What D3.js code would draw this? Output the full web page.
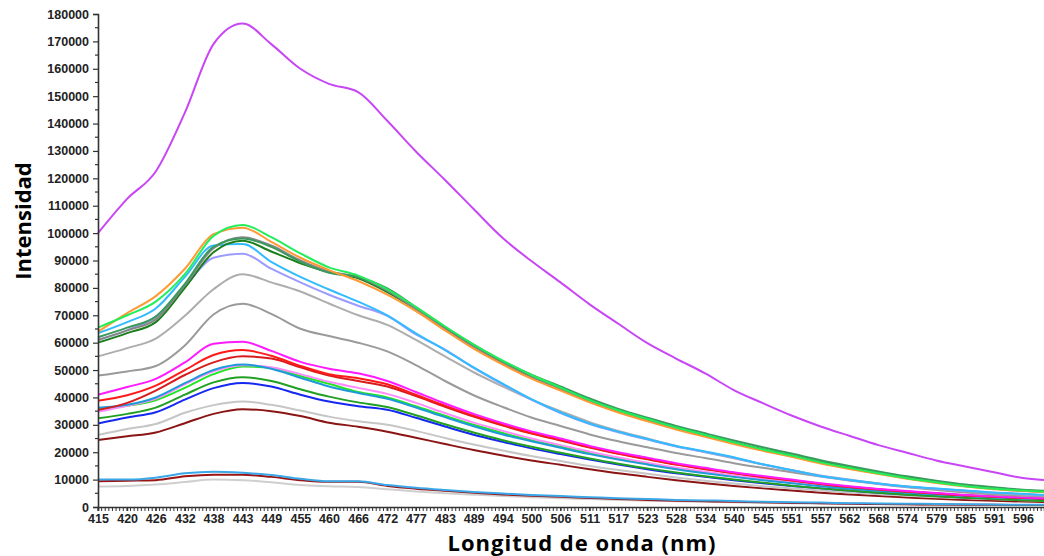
<!DOCTYPE html>
<html>
<head>
<meta charset="utf-8">
<script src="https://cdn.jsdelivr.net/npm/d3@7"></script>
<style>
  html, body { margin: 0; padding: 0; background: #fff; }
  svg { display: block; }
</style>
</head>
<body>
<svg id="chart" width="1044" height="556"></svg>
<script>
// ---------------- DATA ----------------
const wavelengths = [415.0, 420.7, 426.3, 432.0, 437.6, 443.3, 448.9, 454.6, 460.2, 465.9, 471.6, 477.2, 482.9, 488.5, 494.2, 499.8, 505.5, 511.2, 516.8, 522.5, 528.1, 533.8, 539.4, 545.1, 550.7, 556.4, 562.0, 567.7, 573.3, 579.0, 584.7, 590.3, 596.0, 600.1];
const xTickLabels = ["415","420","426","432","438","443","449","455","460","466","472","477","483","489","494","500","506","511","517","523","528","534","540","545","551","557","562","568","574","579","585","591","596"];
const yTicks = [0,10000,20000,30000,40000,50000,60000,70000,80000,90000,100000,110000,120000,130000,140000,150000,160000,170000,180000];

const sLightGrayLow = [7500,7700,8200,9100,10000,9800,9000,8000,7600,7300,6500,5700,5000,4500,4000,3600,3200,2900,2600,2300,2100,1900,1700,1500,1400,1200,1100,1000,900,800,700,700,600,600];
const sDarkRedLow   = [9400,9600,9800,11200,11800,11800,11000,9800,9200,9200,7700,6700,5900,5200,4600,4100,3700,3300,2900,2600,2300,2100,1900,1700,1500,1400,1200,1100,1000,900,800,800,700,700];
const sSkyBlueLow   = [10000,10000,10700,12300,12900,12500,11700,10300,9400,9400,8000,7000,6200,5500,4900,4400,4000,3600,3200,2900,2600,2400,2200,1900,1700,1600,1400,1300,1200,1100,1000,900,800,800];
const sDarkRed      = [24500,25800,27200,30600,34000,35700,35000,33200,30800,29300,27500,25300,23000,20800,18800,17000,15400,13800,12300,11000,9800,8700,7700,6800,6000,5200,4600,4000,3500,3000,2600,2300,2000,1800];
const sLightGray    = [26300,28500,30300,34400,37200,38500,37300,35200,33000,31300,30000,27800,25200,22800,20600,18600,16800,15000,13500,12100,10800,9600,8600,7600,6800,6000,5300,4700,4100,3600,3200,2800,2500,2300];
const sBlue         = [30500,32700,34600,39200,43400,45300,44000,41000,38500,36800,35500,32600,29400,26400,23800,21400,19300,17300,15500,13800,12300,11000,9800,8700,7700,6800,6000,5200,4600,4000,3500,3100,2700,2500];
const sGreen        = [32400,34000,36300,41000,45500,47400,46000,43000,40300,38200,36500,33500,30200,27200,24400,22000,19800,17700,15800,14100,12600,11200,10000,8900,7800,6800,6000,5200,4500,3900,3400,2900,2500,2200];
const sLime         = [35800,37000,39000,43500,48500,51300,50800,47800,45000,42000,40000,36800,33300,30000,27000,24400,22000,19700,17700,15800,14100,12600,11200,10000,8900,7800,6800,6000,5300,4700,4100,3600,3200,2900];
const sPink         = [34800,37000,39500,44800,49500,51800,51000,48500,45700,43500,41300,38000,34300,30800,27800,25000,22600,20200,18100,16200,14400,12900,11500,10200,9100,8000,7000,6100,5400,4700,4100,3600,3200,2900];
const sSteelBlue    = [36200,37300,40000,45200,50000,52000,50500,47200,44000,41600,39500,36300,32800,29500,26500,24000,21600,19300,17300,15500,13800,12300,11000,9800,8700,7600,6700,5900,5200,4600,4000,3500,3100,2800];
const sRedDark      = [35400,38000,42500,48200,52800,55000,54200,51000,48000,46000,44000,40500,36600,33000,29700,26800,24300,21700,19400,17400,15500,13800,12300,10900,9700,8400,7300,6400,5600,4900,4200,3700,3300,3000];
const sRed          = [38800,40800,44300,50000,55500,57300,55200,51500,48500,47000,44800,41000,37000,33300,30000,27000,24500,21900,19600,17600,15600,14000,12400,11000,9800,8500,7400,6500,5700,5000,4300,3800,3400,3100];
const sMagenta      = [41000,43800,46800,52800,59600,60300,57000,53000,50500,48800,46000,42000,37800,34000,30600,27600,25000,22300,20000,18000,16000,14300,12700,11300,10000,8700,7600,6600,5800,5100,4400,3900,3500,3200];
const sGrayMid      = [48000,49500,51500,59000,70300,74200,70500,65100,62400,60000,56800,51800,46000,40800,36500,32700,29600,26500,24000,21800,19700,17900,16000,14300,12700,11100,9700,8400,7200,6200,5300,4600,4100,3800];
const sGrayLight    = [55000,58000,61500,69800,79500,85000,82000,78700,74300,70000,66500,61000,55000,49200,44000,39200,35000,31000,27800,25000,22300,20000,17800,15500,13500,11500,10000,8600,7500,6600,5800,5100,4600,4200];
const sLavender     = [61000,64500,69500,80500,91000,92500,87000,82000,77500,73500,69800,63000,57500,50800,44800,39200,34300,30300,27300,24600,22100,20100,18000,15500,13400,11200,9800,8500,7400,6700,5900,5200,4700,4300];
const sLightBlue    = [63500,67500,72500,84000,95500,96000,89500,84000,79400,75000,70000,63400,57300,51000,45000,39400,34500,30500,27500,24800,22300,20300,18200,15600,13500,11300,9900,8600,7500,6800,6000,5300,4800,4400];
const sDarkGreen    = [60000,63500,67500,80000,93000,97200,93300,89000,85800,83500,78500,72300,65300,58800,52800,47800,43300,39000,35200,32000,28900,26200,23600,21100,18900,16500,14500,12500,10800,9300,7900,6900,6100,5700];
const sGrayDark     = [61000,64500,68500,81000,94500,98500,95500,90000,86000,84000,79000,72300,65000,58500,52500,47400,43000,38700,34900,31600,28600,25900,23300,20800,18500,16200,14100,12200,10500,9000,7700,6700,5900,5500];
const sSeaGreen     = [62000,65500,69500,81500,95000,98000,95000,89500,85500,84000,79800,73000,65800,59300,53300,48300,44000,39600,35800,32600,29600,26900,24300,21800,19500,17100,15000,13000,11200,9600,8200,7200,6300,5900];
const sOrange       = [64000,70800,77000,87000,99600,102000,96800,91000,86500,82500,77500,71500,64500,57800,52000,46900,42500,38200,34500,31300,28300,25600,23000,20500,18300,15900,13900,12000,10300,8800,7500,6500,5800,5400];
const sSpringGreen  = [65500,70000,75000,85000,99000,103000,98500,92600,87500,84500,79500,73000,65900,59300,53400,48200,43600,39000,35300,32100,29000,26300,23600,21000,18800,16300,14300,12300,10500,9000,7600,6700,6000,5600];
const sPurple       = [100000,112500,122500,144000,169000,176500,169000,160000,154500,151500,141000,129800,119400,108800,98200,89800,82000,74000,66900,59800,54200,48800,42700,37900,33400,29400,26000,22600,19800,17000,14800,12700,10600,9900];

// styles (kept apart from the data)
const seriesList = [
  {values: sLightGrayLow, color: "#cfcfcf"},
  {values: sDarkRedLow,   color: "#9a1414"},
  {values: sSkyBlueLow,   color: "#3aa8e8"},
  {values: sDarkRed,      color: "#8b1414"},
  {values: sLightGray,    color: "#c6c6c6"},
  {values: sBlue,         color: "#1428f0"},
  {values: sGreen,        color: "#22a022"},
  {values: sLime,         color: "#22e622"},
  {values: sPink,         color: "#ff8cff"},
  {values: sSteelBlue,    color: "#1e9bd7"},
  {values: sRedDark,      color: "#d81c1c"},
  {values: sRed,          color: "#ff1a1a"},
  {values: sMagenta,      color: "#ff1aff"},
  {values: sGrayMid,      color: "#9a9a9a"},
  {values: sGrayLight,    color: "#adadad"},
  {values: sLavender,     color: "#9b9bff"},
  {values: sLightBlue,    color: "#33bbff"},
  {values: sDarkGreen,    color: "#1a7f1a"},
  {values: sGrayDark,     color: "#868686"},
  {values: sSeaGreen,     color: "#3a9a5e"},
  {values: sOrange,       color: "#ff9933"},
  {values: sSpringGreen,  color: "#22ee5a"},
  {values: sPurple,       color: "#c846f5"}
];

// ---------------- CHART ----------------
const svg = d3.select("#chart");
const x = d3.scaleLinear().domain([415, 600.1]).range([98, 1044]);
const y = d3.scaleLinear().domain([0, 180000]).range([507, 14]);

const line = d3.line()
  .x((d, i) => x(wavelengths[i]))
  .y(d => y(d))
  .curve(d3.curveMonotoneX);

svg.append("g")
  .selectAll("path")
  .data(seriesList)
  .join("path")
  .attr("d", d => line(d.values))
  .attr("fill", "none")
  .attr("stroke", d => d.color)
  .attr("stroke-width", 2)
  .attr("stroke-linejoin", "round");

const tickFont = "'Liberation Sans', Arial, sans-serif";

// Y axis
const yAxis = d3.axisLeft(y).tickValues(yTicks).tickSize(5).tickPadding(4).tickFormat(d3.format("d"));
const gy = svg.append("g").attr("transform", "translate(98,0)").call(yAxis);
gy.select(".domain").attr("stroke", "#333").attr("stroke-width", 1.6);
gy.selectAll(".tick line").attr("stroke", "#333").attr("stroke-width", 1.2);
gy.selectAll(".tick text").attr("font-family", tickFont).attr("font-size", 12.5).attr("font-weight", "bold").attr("fill", "#222");
// minor y ticks
svg.append("g").selectAll("line")
  .data(d3.range(5000, 180000, 10000))
  .join("line")
  .attr("x1", 95).attr("x2", 98)
  .attr("y1", d => y(d)).attr("y2", d => y(d))
  .attr("stroke", "#333").attr("stroke-width", 1.2);

// X axis
const step = (wavelengths[32] - wavelengths[0]) / 32;
const xAxis = d3.axisBottom(x).tickValues(wavelengths.slice(0, 33)).tickSize(4).tickPadding(3)
  .tickFormat((d, i) => xTickLabels[i]);
const gx = svg.append("g").attr("transform", "translate(0,507)").call(xAxis);
gx.select(".domain").attr("stroke", "#333").attr("stroke-width", 1.6);
gx.selectAll(".tick line").attr("stroke", "#333").attr("stroke-width", 1.2);
gx.selectAll(".tick text").attr("font-family", tickFont).attr("font-size", 12.5).attr("font-weight", "bold").attr("fill", "#222");
// minor x ticks
svg.append("g").selectAll("line")
  .data(d3.range(0, 262).map(j => 415 + j * step / 8).filter(v => v <= 600.1))
  .join("line")
  .attr("x1", d => x(d)).attr("x2", d => x(d))
  .attr("y1", 507).attr("y2", 511)
  .attr("stroke", "#333").attr("stroke-width", 1);

// Titles
svg.append("text")
  .attr("x", 582).attr("y", 551)
  .attr("text-anchor", "middle")
  .attr("font-family", "'Open Sans', sans-serif")
  .attr("font-weight", "bold")
  .attr("font-size", 22)
  .attr("letter-spacing", 1)
  .attr("fill", "#000")
  .text("Longitud de onda (nm)");

svg.append("text")
  .attr("transform", "translate(31,221) rotate(-90)")
  .attr("text-anchor", "middle")
  .attr("font-family", "'Open Sans', sans-serif")
  .attr("font-weight", "bold")
  .attr("font-size", 22)
  .attr("fill", "#000")
  .text("Intensidad");
</script>
</body>
</html>
